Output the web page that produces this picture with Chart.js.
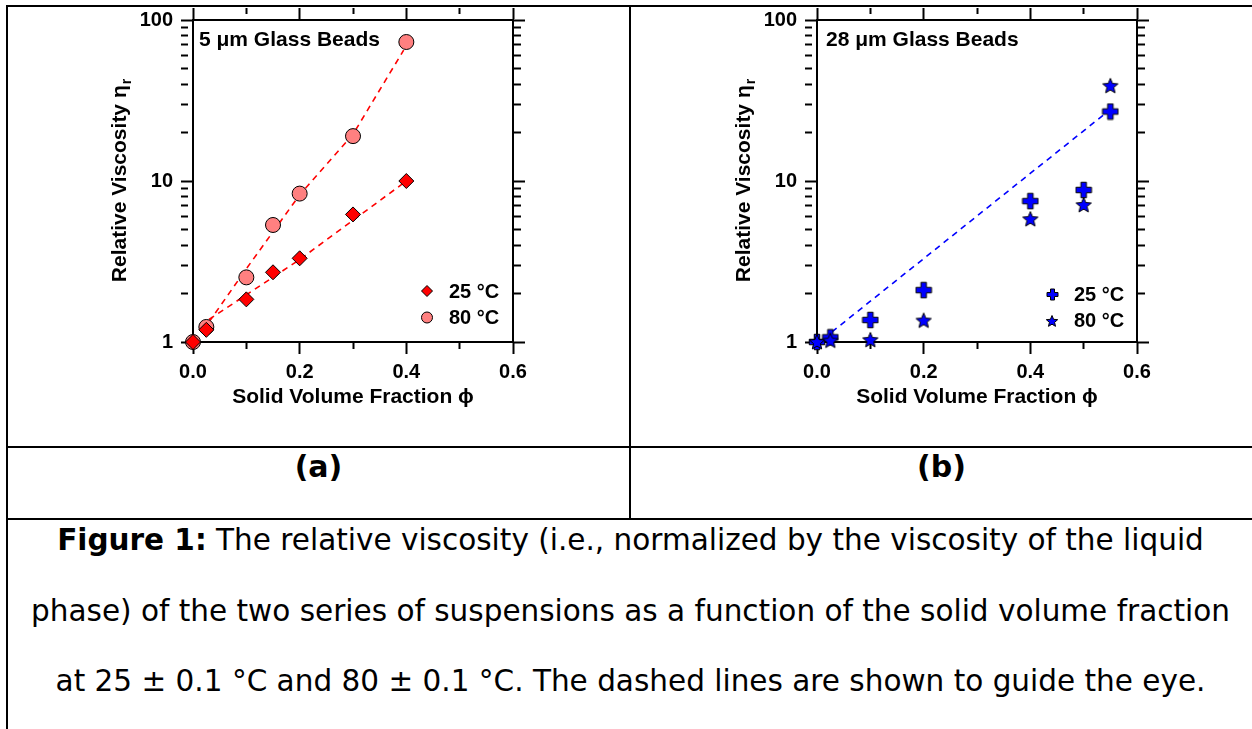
<!DOCTYPE html>
<html>
<head>
<meta charset="utf-8">
<script src="https://cdn.jsdelivr.net/npm/chart.js@4.4.1/dist/chart.umd.min.js"></script>
<style>
  html, body { margin: 0; padding: 0; background: #fff; }
  body { position: relative; width: 1252px; height: 729px; overflow: hidden; font-family: "DejaVu Sans", Verdana, sans-serif; color: #000; }
  .rule { position: absolute; background: #000; z-index: 2; }
  canvas { position: absolute; top: 0; }
  #chartA { left: 0; }
  #chartB { left: 630px; }
  .panel { position: absolute; top: 447px; height: 40px; line-height: 40px; text-align: center; font-weight: bold; font-size: 30px; }
  #cap { position: absolute; left: 9px; width: 1243px; top: 505px; text-align: center; font-size: 29.5px; line-height: 70.5px; white-space: nowrap; }
</style>
</head>
<body>
<canvas id="chartA" width="630" height="446"></canvas>
<canvas id="chartB" width="622" height="446"></canvas>

<div class="rule" style="left:6px;top:5px;width:1246px;height:2px"></div>
<div class="rule" style="left:6px;top:5px;width:2px;height:724px"></div>
<div class="rule" style="left:629px;top:5px;width:2px;height:514px"></div>
<div class="rule" style="left:6px;top:446px;width:1246px;height:2px"></div>
<div class="rule" style="left:6px;top:518px;width:1246px;height:2px"></div>

<div class="panel" style="left:8px;width:621px">(a)</div>
<div class="panel" style="left:631px;width:621px">(b)</div>
<div id="cap"><b>Figure 1:</b> The relative viscosity (i.e., normalized by the viscosity of the liquid<br>phase) of the two series of suspensions as a function of the solid volume fraction<br>at 25 ± 0.1 °C and 80 ± 0.1 °C. The dashed lines are shown to guide the eye.</div>

<script>
// ---- axis ticks ----
const phiTicks = [0, 0.1, 0.2, 0.3, 0.4, 0.5, 0.6];
const phiTickLabels = ['0.0', '', '0.2', '', '0.4', '', '0.6'];
const etaTicks = [1, 2, 3, 4, 5, 6, 7, 8, 9, 10, 20, 30, 40, 50, 60, 70, 80, 90, 100];
const etaTickLabels = ['1', '', '', '', '', '', '', '', '', '10', '', '', '', '', '', '', '', '', '100'];

// ---- (a) 5 µm glass beads ----
const phiA25 = [0, 0.025, 0.1, 0.15, 0.2, 0.3, 0.4];
const etaA25 = [1.0, 1.19, 1.84, 2.71, 3.31, 6.2, 10.0];
const phiA80 = [0, 0.025, 0.1, 0.15, 0.2, 0.3, 0.4];
const etaA80 = [1.0, 1.24, 2.52, 5.33, 8.35, 19.0, 73.0];
// guide-to-the-eye dashed lines
const guideA25Phi = [0.03, 0.2, 0.4];
const guideA25Eta = [1.38, 3.25, 10.0];
const guideA80Phi = [0.03, 0.1, 0.2, 0.3, 0.395];
const guideA80Eta = [1.33, 2.85, 8.2, 19.5, 65.0];

// ---- (b) 28 µm glass beads ----
const phiB25 = [0, 0.025, 0.1, 0.2, 0.4, 0.5, 0.55];
const etaB25 = [1.0, 1.07, 1.37, 2.1, 7.5, 8.8, 27.0];
const phiB80 = [0, 0.025, 0.1, 0.2, 0.4, 0.5, 0.55];
const etaB80 = [1.0, 1.02, 1.03, 1.36, 5.8, 7.1, 39.0];
const guideB25Phi = [0.028, 0.537];
const guideB25Eta = [1.155, 25.7];

const seriesLabels = ['25 °C', '80 °C'];
const xTitle = 'Solid Volume Fraction ϕ';
const yTitle = 'Relative Viscosity η';
const yTitleSub = 'r';

const SANS = '"Liberation Sans", Arial, Helvetica, sans-serif';
const pts = (xs, ys) => xs.map((x, i) => ({ x, y: ys[i] }));

// filled plus and star markers with a thin black outline
function plusMarker(size, thick) {
  const s = Math.ceil(size) + 2, c = document.createElement('canvas');
  c.width = c.height = s;
  const g = c.getContext('2d'), m = s / 2, h = size / 2, t = thick / 2;
  g.beginPath();
  g.moveTo(m - t, m - h); g.lineTo(m + t, m - h); g.lineTo(m + t, m - t); g.lineTo(m + h, m - t);
  g.lineTo(m + h, m + t); g.lineTo(m + t, m + t); g.lineTo(m + t, m + h); g.lineTo(m - t, m + h);
  g.lineTo(m - t, m + t); g.lineTo(m - h, m + t); g.lineTo(m - h, m - t); g.lineTo(m - t, m - t);
  g.closePath();
  g.fillStyle = '#0000ff'; g.fill();
  g.lineWidth = 1; g.strokeStyle = '#000'; g.stroke();
  return c;
}
function starMarker(outer, inner) {
  const s = Math.ceil(outer * 2) + 2, c = document.createElement('canvas');
  c.width = c.height = s;
  const g = c.getContext('2d'), m = s / 2;
  g.beginPath();
  for (let k = 0; k < 10; k++) {
    const r = k % 2 ? inner : outer, a = -Math.PI / 2 + k * Math.PI / 5;
    const px = m + r * Math.cos(a), py = m + 0.5 + r * Math.sin(a);
    k ? g.lineTo(px, py) : g.moveTo(px, py);
  }
  g.closePath();
  g.fillStyle = '#0000ff'; g.fill();
  g.lineWidth = 1; g.strokeStyle = '#000'; g.stroke();
  return c;
}
const plusBig = plusMarker(15.5, 5.5), plusSmall = plusMarker(11, 4);
const starBig = starMarker(8, 3.6), starSmall = starMarker(6, 2.7);

function xScale(position, size, labels) {
  const o = {
    axis: 'x', type: 'linear', position, min: 0, max: 0.6,
    afterBuildTicks: s => { s.ticks = phiTicks.map(v => ({ value: v })); },
    afterFit: s => { s.height = size; },
    ticks: {
      display: labels, autoSkip: false, maxRotation: 0, padding: 6, color: '#000',
      font: { family: SANS, size: 20, weight: 'bold' },
      callback: (v, i) => phiTickLabels[i]
    },
    grid: {
      display: true, drawOnChartArea: false, drawTicks: true, tickLength: 12,
      tickWidth: 2, tickColor: '#000',
      tickBorderDash: c => (phiTickLabels[c.index] ? [] : [6, 40])
    },
    border: { display: true, color: '#000', width: 2 }
  };
  if (labels) {
    o.title = { display: true, text: xTitle, color: '#000',
      font: { family: SANS, size: 21, weight: 'bold' }, padding: { top: 0, bottom: 36 } };
  }
  return o;
}
function yScale(position, size, labels) {
  return {
    axis: 'y', type: 'logarithmic', position, min: 1, max: 100,
    afterBuildTicks: s => { s.ticks = etaTicks.map(v => ({ value: v })); },
    afterFit: s => { s.width = size; },
    ticks: {
      display: labels, autoSkip: false, padding: 8, color: '#000',
      font: { family: SANS, size: 20, weight: 'bold' },
      callback: (v, i) => etaTickLabels[i]
    },
    grid: {
      display: true, drawOnChartArea: false, drawTicks: true, tickLength: 12,
      tickWidth: 2, tickColor: '#000',
      tickBorderDash: c => (etaTickLabels[c.index] ? [] : [7, 40])
    },
    border: { display: true, color: '#000', width: 2 }
  };
}

// panel heading, rotated y title with subscript, and the inset legend
const annotations = {
  id: 'annotations',
  afterDatasetsDraw(chart, args, o) {
    const { ctx, chartArea: a } = chart;
    ctx.save();
    ctx.fillStyle = '#000';
    ctx.textBaseline = 'alphabetic';
    ctx.textAlign = 'left';
    ctx.font = 'bold 21px ' + SANS;
    ctx.fillText(o.heading, a.left + o.headingDx, a.top + 26);

    // y axis title
    const main = 'bold 21px ' + SANS, sub = 'bold 14px ' + SANS;
    ctx.font = main; const w1 = ctx.measureText(yTitle).width;
    ctx.font = sub; const w2 = ctx.measureText(yTitleSub).width;
    ctx.translate(o.yTitleX, (a.top + a.bottom) / 2);
    ctx.rotate(-Math.PI / 2);
    ctx.font = main; ctx.fillText(yTitle, -(w1 + w2) / 2, 0);
    ctx.font = sub; ctx.fillText(yTitleSub, -(w1 + w2) / 2 + w1 + 1, 5);
    ctx.restore();

    // legend
    ctx.save();
    o.legend.forEach((it, i) => {
      const x = a.left + o.legendDx, y = a.top + o.legendDy + i * 26.5;
      ctx.lineWidth = 1; ctx.strokeStyle = '#000';
      if (it.shape === 'diamond') {
        ctx.beginPath();
        ctx.moveTo(x, y - 5.5); ctx.lineTo(x + 5.5, y); ctx.lineTo(x, y + 5.5); ctx.lineTo(x - 5.5, y);
        ctx.closePath(); ctx.fillStyle = it.fill; ctx.fill(); ctx.stroke();
      } else if (it.shape === 'circle') {
        ctx.beginPath(); ctx.arc(x, y, 5.5, 0, Math.PI * 2);
        ctx.fillStyle = it.fill; ctx.fill(); ctx.stroke();
      } else {
        ctx.drawImage(it.shape, Math.round(x - it.shape.width / 2), Math.round(y - it.shape.height / 2));
      }
      ctx.fillStyle = '#000';
      ctx.font = 'bold 20px ' + SANS;
      ctx.textBaseline = 'middle';
      ctx.fillText(seriesLabels[i], a.left + o.legendTextDx, y + 1);
    });
    ctx.restore();
  }
};

const common = {
  responsive: false, animation: false, devicePixelRatio: 1, events: [],
  layout: { padding: 0 },
  plugins: { legend: { display: false }, tooltip: { enabled: false } }
};

new Chart(document.getElementById('chartA'), {
  type: 'scatter',
  data: {
    datasets: [
      { label: seriesLabels[0], data: pts(phiA25, etaA25), order: 0, clip: false,
        pointStyle: 'rectRot', pointRadius: 7.5, pointBackgroundColor: '#ff0000',
        pointBorderColor: '#000', pointBorderWidth: 1, showLine: false },
      { label: seriesLabels[1], data: pts(phiA80, etaA80), order: 1, clip: false,
        pointStyle: 'circle', pointRadius: 7.5, pointBackgroundColor: '#ff8080',
        pointBorderColor: '#000', pointBorderWidth: 1, showLine: false },
      { type: 'line', data: pts(guideA25Phi, guideA25Eta), order: 2, borderColor: '#ff0000',
        borderWidth: 1.6, borderDash: [6, 5], pointRadius: 0, fill: false, tension: 0 },
      { type: 'line', data: pts(guideA80Phi, guideA80Eta), order: 2, borderColor: '#ff0000',
        borderWidth: 1.6, borderDash: [6, 5], pointRadius: 0, fill: false, tension: 0 }
    ]
  },
  options: Object.assign({}, common, {
    scales: {
      x: xScale('bottom', 104, true),
      x2: xScale('top', 20, false),
      y: yScale('left', 193, true),
      y2: yScale('right', 117, false)
    },
    plugins: Object.assign({}, common.plugins, {
      annotations: {
        heading: '5 μm Glass Beads', headingDx: 6, yTitleX: 126,
        legendDx: 234, legendDy: 271, legendTextDx: 256,
        legend: [{ shape: 'diamond', fill: '#ff0000' }, { shape: 'circle', fill: '#ff8080' }]
      }
    })
  }),
  plugins: [annotations]
});

new Chart(document.getElementById('chartB'), {
  type: 'scatter',
  data: {
    datasets: [
      { label: seriesLabels[1], data: pts(phiB80, etaB80), order: 0, clip: false,
        pointStyle: starBig, showLine: false },
      { label: seriesLabels[0], data: pts(phiB25, etaB25), order: 1, clip: false,
        pointStyle: plusBig, showLine: false },
      { type: 'line', data: pts(guideB25Phi, guideB25Eta), order: 2, borderColor: '#0000ff',
        borderWidth: 1.6, borderDash: [6, 5], pointRadius: 0, fill: false, tension: 0 }
    ]
  },
  options: Object.assign({}, common, {
    scales: {
      x: xScale('bottom', 104, true),
      x2: xScale('top', 20, false),
      y: yScale('left', 187, true),
      y2: yScale('right', 115, false)
    },
    plugins: Object.assign({}, common.plugins, {
      annotations: {
        heading: '28 μm Glass Beads', headingDx: 9, yTitleX: 120,
        legendDx: 235, legendDy: 274, legendTextDx: 257,
        legend: [{ shape: plusSmall }, { shape: starSmall }]
      }
    })
  }),
  plugins: [annotations]
});
</script>
</body>
</html>
